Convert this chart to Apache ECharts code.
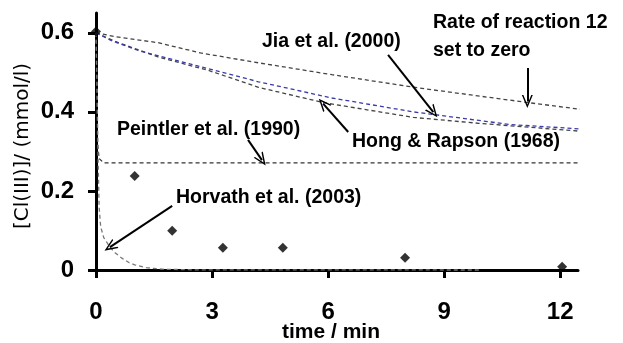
<!DOCTYPE html>
<html>
<head>
<meta charset="utf-8">
<script src="https://cdn.jsdelivr.net/npm/echarts@6/dist/echarts.min.js"></script>
<style>
  html, body { margin: 0; padding: 0; background: #fff; }
  #chart { width: 623px; height: 343px; }
</style>
</head>
<body>
<div id="chart"></div>
<script>
// measured points, [time (min), Cl(III) (mmol/l)]
const measured = [[0, 0.603], [1.0, 0.238], [1.97, 0.099], [3.28, 0.056], [4.83, 0.056], [7.99, 0.031], [12.05, 0.008]]

// model curves
const rate12Zero = [[0, 0.6], [0.5, 0.59], [1.6, 0.575], [2.7, 0.549], [4.2, 0.524], [6.1, 0.494], [8.3, 0.461], [11.2, 0.423], [12.65, 0.405]]
const jia2000 = [[0, 0.6], [0.4, 0.58], [1.1, 0.555], [2.4, 0.522], [4.2, 0.476], [6.1, 0.435], [8.2, 0.4], [10.7, 0.368], [12.65, 0.356]]
const hong1968 = [[0, 0.6], [0.5, 0.578], [1.6, 0.539], [2.9, 0.505], [4.2, 0.462], [5.9, 0.423], [8.2, 0.386], [9.9, 0.371], [12.65, 0.35]]
const peintler1990 = [[0, 0.6], [0.02, 0.45], [0.04, 0.32], [0.08, 0.282], [0.2, 0.271], [12.65, 0.271]]
const horvath2003 = [[0, 0.6], [0.03, 0.45], [0.05, 0.3], [0.08, 0.16], [0.12, 0.11], [0.2, 0.082], [0.36, 0.058], [0.5, 0.043], [0.67, 0.03], [0.85, 0.019], [1.0, 0.013], [1.3, 0.006], [1.7, 0.002], [2.5, 0.0005], [9.9, 0]]

// arrows: [from, to] in data units
const arrows = [
  [[7.55, 0.544], [8.72, 0.399]],
  [[11.15, 0.511], [11.15, 0.426]],
  [[6.52, 0.349], [5.87, 0.421]],
  [[3.93, 0.329], [4.29, 0.278]],
  [[1.97, 0.162], [0.36, 0.058]]
]

const xTicks = [0, 3, 6, 9, 12]
const yTicks = [0, 0.2, 0.4, 0.6]

const FONT = '"Liberation Sans", Arial, sans-serif'
const arrowHead = 'path://M0,0 L6,12 L4.3,12 L0,3.4 L-4.3,12 L-6,12 Z'

function dashed(name, data, color) {
  return {
    name: name,
    type: 'line',
    data: data,
    showSymbol: false,
    clip: false,
    silent: true,
    lineStyle: { color: color, width: 1.3, type: [4, 3] },
    z: 3
  }
}

const chart = echarts.init(document.getElementById('chart'))
chart.setOption({
  animation: false,
  grid: { left: 96, right: 45, top: 13, bottom: 73, outerBoundsMode: 'none' },
  xAxis: {
    type: 'value',
    min: 0,
    max: 12.46,
    axisLine: { lineStyle: { color: '#000', width: 3 } },
    axisTick: { show: true, length: 8, customValues: xTicks, lineStyle: { color: '#000', width: 3 } },
    axisLabel: { customValues: xTicks, margin: 30, color: '#000', fontSize: 24, fontWeight: 'bold', fontFamily: FONT },
    splitLine: { show: false }
  },
  yAxis: {
    type: 'value',
    min: 0,
    max: 0.65,
    axisLine: { show: true, lineStyle: { color: '#000', width: 3 } },
    axisTick: { show: true, length: 8, customValues: yTicks, lineStyle: { color: '#000', width: 3 } },
    axisLabel: {
      customValues: yTicks,
      margin: 22,
      color: '#000',
      fontSize: 24,
      fontWeight: 'bold',
      fontFamily: FONT,
      formatter: v => (v === 0 ? '0' : v.toFixed(1))
    },
    splitLine: { show: false }
  },
  graphic: [
    {
      type: 'text', x: 23, y: 146, rotation: Math.PI / 2,
      style: { text: '[Cl(III)]/ (mmol/l)', fill: '#000', font: '20px "DejaVu Sans", sans-serif', align: 'center', verticalAlign: 'middle' }
    },
    { type: 'text', x: 331, y: 332, style: { text: 'time / min', fill: '#000', font: 'bold 21px ' + FONT, align: 'center', verticalAlign: 'middle' } },
    { type: 'text', x: 262, y: 42, style: { text: 'Jia et al. (2000)', fill: '#000', font: 'bold 19.5px ' + FONT, verticalAlign: 'middle' } },
    { type: 'text', x: 433, y: 9, style: { text: 'Rate of reaction 12\nset to zero', fill: '#000', font: 'bold 19.5px ' + FONT, verticalAlign: 'top', lineHeight: 28 } },
    { type: 'text', x: 117, y: 130, style: { text: 'Peintler et al. (1990)', fill: '#000', font: 'bold 19.5px ' + FONT, verticalAlign: 'middle' } },
    { type: 'text', x: 352, y: 142, style: { text: 'Hong & Rapson (1968)', fill: '#000', font: 'bold 19.5px ' + FONT, verticalAlign: 'middle' } },
    { type: 'text', x: 176, y: 198, style: { text: 'Horvath et al. (2003)', fill: '#000', font: 'bold 19.5px ' + FONT, verticalAlign: 'middle' } }
  ],
  series: [
    dashed('Rate of reaction 12 set to zero', rate12Zero, '#444'),
    dashed('Hong & Rapson (1968)', hong1968, '#444'),
    dashed('Jia et al. (2000)', jia2000, '#3a3aa8'),
    dashed('Peintler et al. (1990)', peintler1990, '#333'),
    dashed('Horvath et al. (2003)', horvath2003, '#777'),
    {
      name: 'measured',
      type: 'scatter',
      data: measured,
      symbol: 'diamond',
      symbolSize: 10,
      clip: false,
      silent: true,
      itemStyle: { color: '#000' },
      z: 5,
      markLine: {
        silent: true,
        symbol: ['none', arrowHead],
        symbolSize: [11, 13],
        label: { show: false },
        lineStyle: { color: '#000', width: 2, type: 'solid' },
        data: arrows.map(a => [{ coord: a[0] }, { coord: a[1] }])
      }
    }
  ]
})
</script>
</body>
</html>
